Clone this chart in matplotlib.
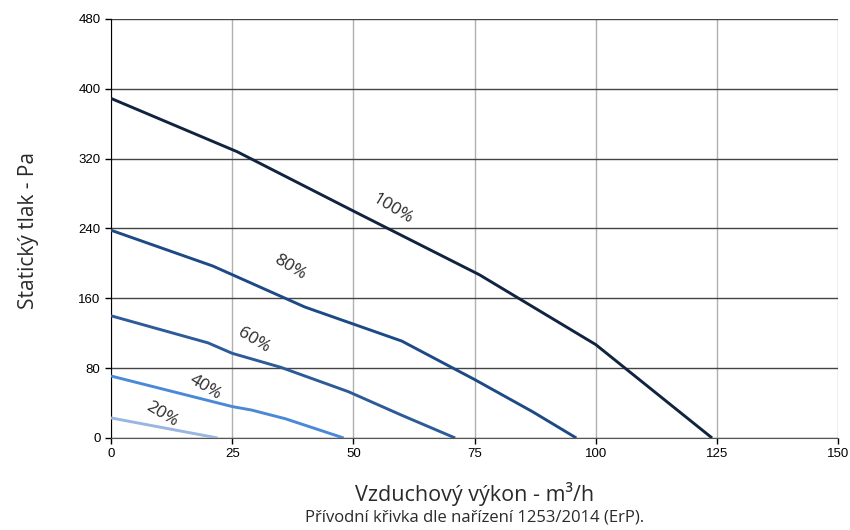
import matplotlib.pyplot as plt

# Fan curves: air flow (m3/h) vs static pressure (Pa) per speed setting
x_100 = [0, 26, 50, 76, 100, 124]
y_100 = [389, 328, 260, 187, 107, 0]
x_80 = [0, 21, 40, 60, 75, 87, 96]
y_80 = [238, 197, 150, 111, 67, 30, 0]
x_60 = [0, 20, 25, 35, 49, 60, 71]
y_60 = [140, 109, 97, 81, 53, 26, 0]
x_40 = [0, 25, 29, 36, 42, 48]
y_40 = [71, 36, 32, 22, 11, 0]
x_20 = [0, 22]
y_20 = [23, 0]

labels = ["100%", "80%", "60%", "40%", "20%"]
label_pos = [(58, 262), (37, 195), (29.5, 112), (19.4, 58), (10.4, 27)]

series = [(x_100, y_100), (x_80, y_80), (x_60, y_60), (x_40, y_40), (x_20, y_20)]
colors = ["#10233f", "#1d4a85", "#2d5a98", "#4a88d8", "#98b6e0"]

fig = plt.figure(figsize=(8.5, 5.3), dpi=100)
ax = fig.add_axes([0.1306, 0.1736, 0.8554, 0.7906])

for (xs, ys), c in zip(series, colors):
    ax.plot(xs, ys, color=c, linewidth=2.1, solid_capstyle="butt", zorder=3)

for lab, (lx, ly) in zip(labels, label_pos):
    ax.text(lx, ly, lab, rotation=-31, ha="center", va="center",
            fontsize=12.5, family="Open Sans", color="#2a2a2a", zorder=4)

ax.set_xlim(0, 150)
ax.set_ylim(0, 480)
ax.set_xticks(range(0, 151, 25))
ax.set_yticks(range(0, 481, 80))
ax.yaxis.grid(True, color="#444444", linewidth=1.0)
ax.xaxis.grid(True, color="#b0b0b0", linewidth=1.0)
ax.set_axisbelow(True)

for s in ["top", "right"]:
    ax.spines[s].set_visible(False)
ax.spines["left"].set_color("#000000")
ax.spines["bottom"].set_color("#555555")
ax.tick_params(direction="out", length=4, width=1, labelsize=9.5,
               labelfontfamily="Liberation Sans")

fig.text(0.033, 0.566, "Statický tlak - Pa", rotation=90, ha="center", va="center",
         fontsize=15, family="Open Sans", color="#2a2a2a")
fig.text(0.558, 0.068, "Vzduchový výkon - m³/h", ha="center", va="center",
         fontsize=15.5, family="Open Sans", color="#2a2a2a")
fig.text(0.558, 0.023, "Přívodní křivka dle nařízení 1253/2014 (ErP).", ha="center",
         va="center", fontsize=12, family="Open Sans", color="#2a2a2a")

fig.savefig("out.png", dpi=100)
